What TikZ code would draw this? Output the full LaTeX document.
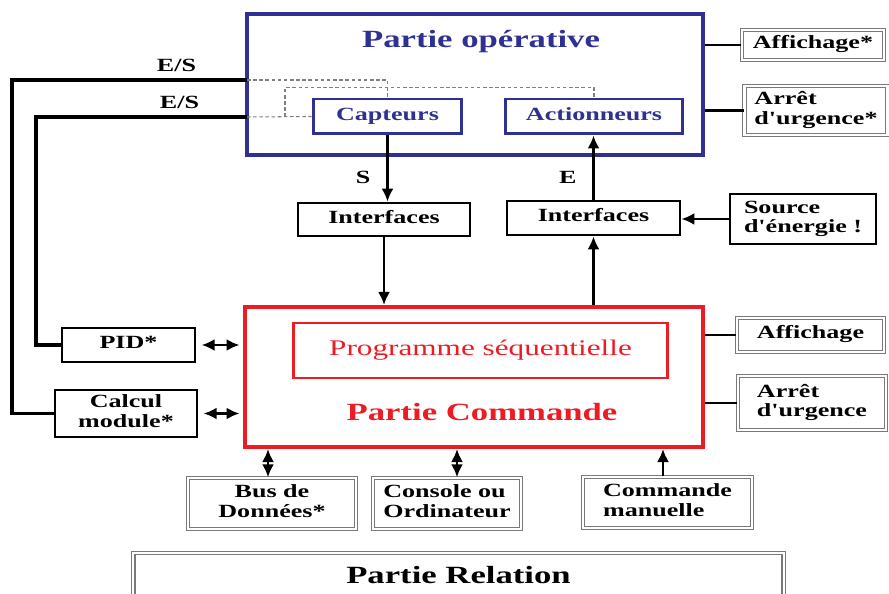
\documentclass[tikz,border=0pt]{standalone}
\usepackage{fontspec}
\setmainfont{Liberation Serif}[Ligatures=TeXOff]
\usepackage{graphicx}
\usepackage{xcolor}
\definecolor{opBlue}{HTML}{2E3192}
\definecolor{cmdRed}{HTML}{ED1C24}
\definecolor{frameGray}{HTML}{7A7A7A}
\usetikzlibrary{positioning,calc,arrows.meta}
\newcommand{\boxFont}{\fontsize{10.6}{11}\selectfont\bfseries}
\newcommand{\titleFont}{\fontsize{14.1}{16}\selectfont\bfseries}
\newcommand{\progFont}{\fontsize{12.7}{14}\selectfont}
\newcommand{\wideText}[2][c]{\scalebox{1.4}[1]{\begin{tabular}{@{}#1@{}}#2\end{tabular}}}
\tikzset{
  opFrame/.style={
    rectangle,
    draw=opBlue,
    line width=2.3pt,
    inner sep=0pt
 },
  opPart/.style={
    rectangle,
    draw=opBlue,
    line width=1.7pt,
    inner sep=0pt,
    text=opBlue,
    font=\boxFont
 },
  cmdFrame/.style={
    rectangle,
    draw=cmdRed,
    line width=2.3pt,
    inner sep=0pt
 },
  blackBox/.style={
    rectangle,
    draw=black,
    line width=1.6pt,
    inner sep=0pt,
    font=\boxFont
 },
  grayBox/.style={
    rectangle,
    draw=frameGray,
    double=white,
    double distance=1.2pt,
    line width=0.8pt,
    inner sep=0pt,
    font=\boxFont
 },
  arrowLine/.style={
    -{Latex[length=2.6mm,width=2.4mm]},
    line width=1.4pt
 },
  bothLine/.style={
    {Latex[length=2.6mm,width=2.4mm]}-{Latex[length=2.6mm,width=2.4mm]},
    line width=1.4pt
 },
  plainLine/.style={
    line width=1.5pt
 },
  busLine/.style={
    line width=2.1pt
 },
  dashLine/.style={
    draw=gray,
    line width=0.6pt,
    dash pattern=on 2pt off 1.5pt
 }
}
\begin{document}
\begin{tikzpicture}[x=0.02cm, y=-0.02cm]
  \useasboundingbox (0,0) rectangle (889,594);
  \clip (0,0) rectangle (889,594);

  % Partie operative
  \node[opFrame, minimum width=9.12cm, minimum height=2.82cm] (operative) at (475,84.5) {};
  \node[text=opBlue, font=\titleFont] (opTitle) at (481,42) {\wideText{Partie opérative}};
  \node[opPart, minimum width=2.98cm, minimum height=0.70cm] (capteurs) at (387.5,116.5) {\wideText{Capteurs}};
  \node[opPart, minimum width=3.56cm, minimum height=0.70cm] (actionneurs) at (594,116.5) {\wideText{Actionneurs}};
  \node[grayBox, minimum width=2.84cm, minimum height=0.60cm] (affOp) at (813,45) {\wideText{Affichage*}};
  \node[grayBox, minimum width=2.86cm, minimum height=0.98cm] (arretOp) at (816,110.5) {\wideText[l]{Arrêt\\d'urgence*}};

  % interfaces
  \node[blackBox, minimum width=3.44cm, minimum height=0.66cm] (ifaceS) at (384,219.5) {\wideText{Interfaces}};
  \node[blackBox, minimum width=3.46cm, minimum height=0.68cm] (ifaceE) at (593.5,218) {\wideText{Interfaces}};
  \node[blackBox, minimum width=2.92cm, minimum height=1.00cm] (source) at (803,219) {\wideText[l]{Source\\d'énergie !}};

  % Partie commande
  \node[cmdFrame, minimum width=9.16cm, minimum height=2.80cm] (commande) at (474,377) {};
  \node[cmdFrame, line width=1.7pt, minimum width=7.50cm, minimum height=1.10cm, text=cmdRed, font=\progFont] (programme) at (480.5,350.5) {\wideText{Programme séquentielle}};
  \node[text=cmdRed, font=\titleFont] (cmdTitle) at (482,415) {\wideText{Partie Commande}};
  \node[blackBox, minimum width=2.66cm, minimum height=0.68cm] (pid) at (128.5,345) {\wideText{PID*}};
  \node[blackBox, minimum width=2.84cm, minimum height=0.94cm] (calcul) at (126,413.5) {\wideText{Calcul\\module*}};
  \node[grayBox, minimum width=2.94cm, minimum height=0.68cm] (affCmd) at (810.5,335) {\wideText{Affichage}};
  \node[grayBox, minimum width=2.96cm, minimum height=1.08cm] (arretCmd) at (812,403) {\wideText[l]{Arrêt\\d'urgence}};

  % peripheriques
  \node[grayBox, minimum width=3.36cm, minimum height=1.02cm] (bus) at (272,503.5) {\wideText{Bus de\\Données*}};
  \node[grayBox, minimum width=2.96cm, minimum height=1.02cm] (console) at (447,503.5) {\wideText[l]{Console ou\\Ordinateur}};
  \node[grayBox, minimum width=3.38cm, minimum height=1.02cm] (manuelle) at (667.5,502.5) {\wideText[l]{Commande\\manuelle}};

  % Partie relation
  \node[grayBox, minimum width=13.02cm, minimum height=1.00cm, font=\titleFont] (relation) at (458.5,578) {\wideText{Partie Relation}};

  % E/S
  \coordinate (es1) at (247,80);
  \coordinate (es2) at (247,117);
  \coordinate (dashJoin) at (285,117);
  \draw[busLine] (es1) -- node[above, yshift=-0.1cm, pos=0.3, font=\boxFont]{\wideText{E/S}} ++(-235,0) |- (calcul.west);
  \draw[busLine] (es2) -- node[above, yshift=-0.1cm, pos=0.32, font=\boxFont]{\wideText{E/S}} ++(-211,0) |- (pid.west);
  \draw[dashLine] (es1) -| (capteurs.north);
  \draw[dashLine] (es2) -- (capteurs.west);
  \draw[dashLine] (dashJoin) |- ([yshift=0.2cm]actionneurs.north) -- (actionneurs.north);

  \draw[arrowLine] (capteurs.south) -- node[left, pos=0.67, xshift=-0.2cm, font=\boxFont]{\wideText{S}} (capteurs.south |- ifaceS.north);
  \draw[arrowLine] (ifaceS.south) -- (ifaceS.south |- commande.north);
  \draw[arrowLine] (ifaceE.south |- commande.north) -- (ifaceE.south);
  \draw[arrowLine] (ifaceE.north) -- node[left, pos=0.31, xshift=-0.2cm, font=\boxFont]{\wideText{E}} (ifaceE.north |- actionneurs.south);
  \draw[arrowLine] (source.west) -- (source.west -| ifaceE.east);

  \draw[plainLine] (affOp.west -| operative.east) -- (affOp.west);
  \draw[plainLine] (arretOp.west -| operative.east) -- (arretOp.west);
  \draw[plainLine] (affCmd.west -| commande.east) -- (affCmd.west);
  \draw[plainLine] (arretCmd.west -| commande.east) -- (arretCmd.west);

  \draw[bothLine, shorten <=3pt, shorten >=2pt] (pid.east) -- (pid.east -| commande.west);
  \draw[bothLine, shorten <=3pt, shorten >=2pt] (calcul.east) -- (calcul.east -| commande.west);
  \draw[bothLine] ([xshift=-0.08cm]bus.north) -- ([xshift=-0.08cm]bus.north |- commande.south);
  \draw[bothLine] ([xshift=0.2cm]console.north) -- ([xshift=0.2cm]console.north |- commande.south);
  \draw[arrowLine] ([xshift=-0.09cm]manuelle.north) -- ([xshift=-0.09cm]manuelle.north |- commande.south);
\end{tikzpicture}
\end{document}
